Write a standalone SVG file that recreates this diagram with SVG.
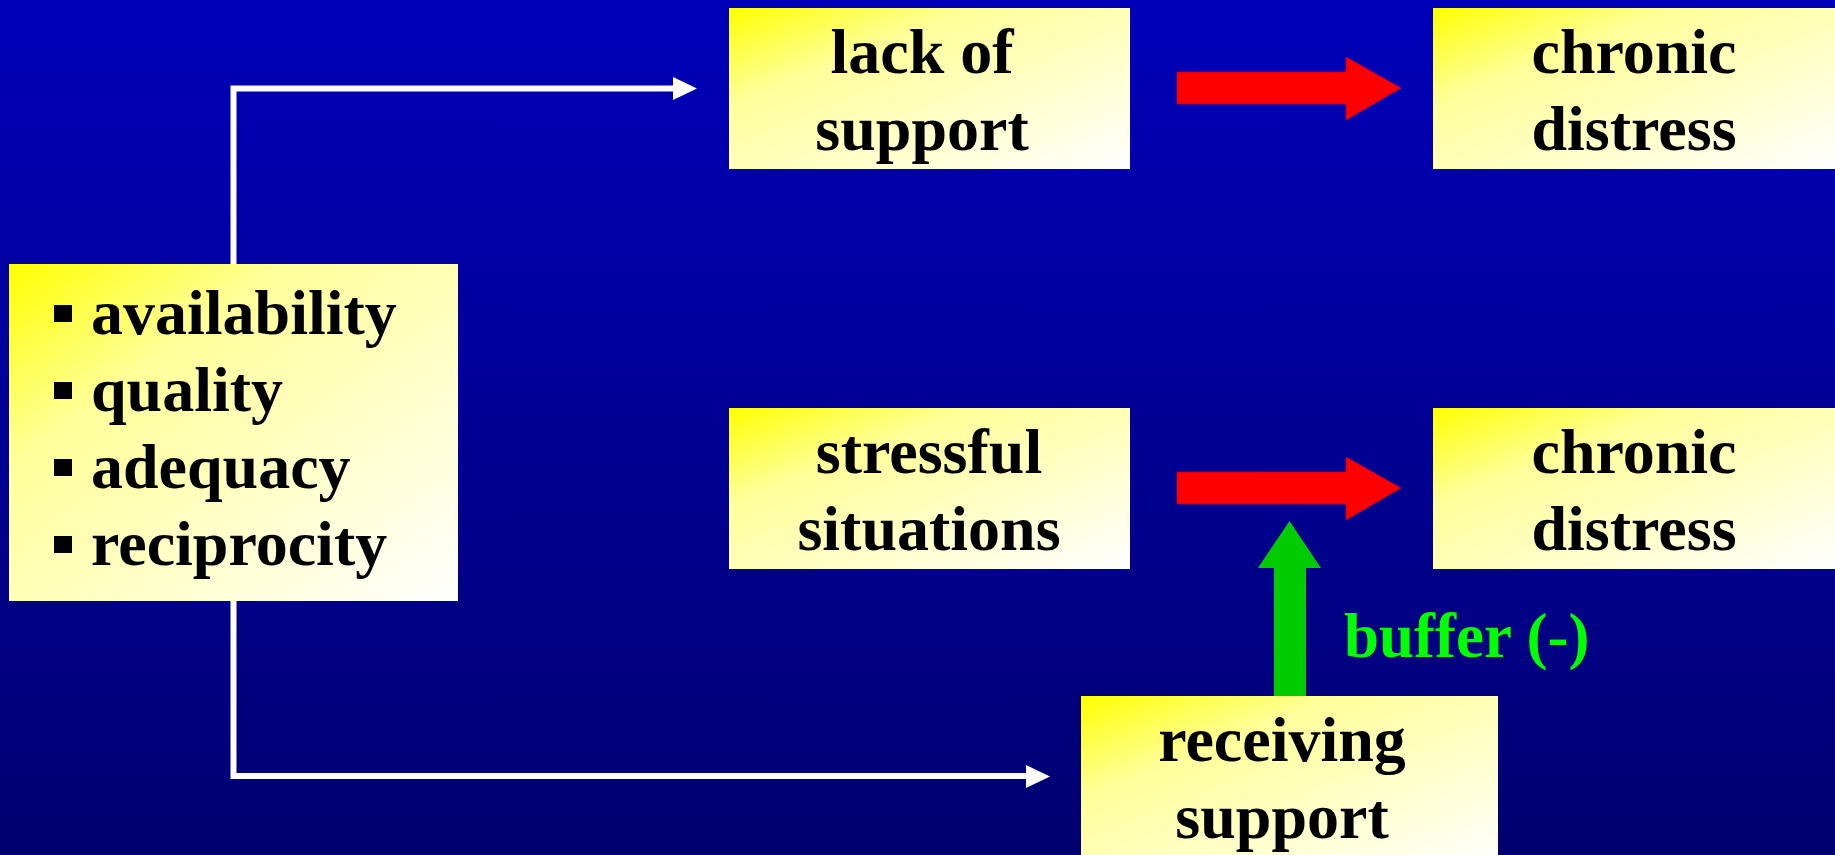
<svg xmlns="http://www.w3.org/2000/svg" width="1835" height="855" viewBox="0 0 1835 855">
<defs>
<linearGradient id="bg" x1="0" y1="0" x2="0" y2="1">
<stop offset="0" stop-color="#0000BA"/>
<stop offset="1" stop-color="#000070"/>
</linearGradient>
<linearGradient id="box" x1="0" y1="0" x2="1" y2="1">
<stop offset="0" stop-color="#FFFF00"/>
<stop offset="0.3" stop-color="#FFFF99"/>
<stop offset="1" stop-color="#FFFFFF"/>
</linearGradient>
</defs>
<style>
.box{fill:url(#box);}
.t{font-family:"Liberation Serif","Times New Roman",serif;font-weight:bold;font-size:64px;fill:#000;}
.c{text-anchor:middle;}
.wire{fill:none;stroke:#FFFFFF;stroke-width:6;}
.whead{fill:#FFFFFF;}
.red{fill:#FF0000;stroke:#C00030;stroke-width:0.8;}
.green{fill:#00CC00;}
.lbl{font-family:"Liberation Serif","Times New Roman",serif;font-weight:bold;font-size:63px;fill:#00FF00;}
</style>
<rect x="0" y="0" width="1835" height="855" fill="url(#bg)"/>

<g id="connectors">
<polyline class="wire" points="233.5,264 233.5,88.5 674,88.5"/>
<polygon class="whead" points="673,77 697,88.5 673,100"/>
<polyline class="wire" points="233.5,601 233.5,776 1027,776"/>
<polygon class="whead" points="1026,765 1050,776.5 1026,788"/>
<polygon class="red" points="1177,72 1346,72 1346,57 1401,88 1346,120 1346,104 1177,104"/>
<polygon class="red" points="1177,472 1346,472 1346,457 1401,488 1346,520 1346,504 1177,504"/>
<polygon class="green" points="1274,696 1274,568 1258,568 1289.5,521 1321,568 1306,568 1306,696"/>
<text class="lbl" x="1344" y="657">buffer (-)</text>
</g>

<g id="attributes">
<rect class="box" x="9" y="264" width="449" height="337"/>
<rect x="54" y="305" width="18" height="17" fill="#000"/>
<rect x="54" y="382" width="18" height="17" fill="#000"/>
<rect x="54" y="459" width="18" height="17" fill="#000"/>
<rect x="54" y="536" width="18" height="17" fill="#000"/>
<text class="t" x="91" y="334">availability</text>
<text class="t" x="91" y="411">quality</text>
<text class="t" x="91" y="488">adequacy</text>
<text class="t" x="91" y="565">reciprocity</text>
</g>

<g id="lack-of-support">
<rect class="box" x="729" y="8" width="401" height="161"/>
<text class="t c" x="922" y="73">lack of</text>
<text class="t c" x="922" y="150">support</text>
</g>

<g id="chronic-distress-1">
<rect class="box" x="1433" y="8" width="402" height="161"/>
<text class="t c" x="1634" y="73">chronic</text>
<text class="t c" x="1634" y="150">distress</text>
</g>

<g id="stressful-situations">
<rect class="box" x="729" y="408" width="401" height="161"/>
<text class="t c" x="929" y="473">stressful</text>
<text class="t c" x="929" y="550">situations</text>
</g>

<g id="chronic-distress-2">
<rect class="box" x="1433" y="408" width="402" height="161"/>
<text class="t c" x="1634" y="473">chronic</text>
<text class="t c" x="1634" y="550">distress</text>
</g>

<g id="receiving-support">
<rect class="box" x="1081" y="696" width="417" height="170"/>
<text class="t c" x="1282" y="761">receiving</text>
<text class="t c" x="1282" y="838">support</text>
</g>
</svg>
